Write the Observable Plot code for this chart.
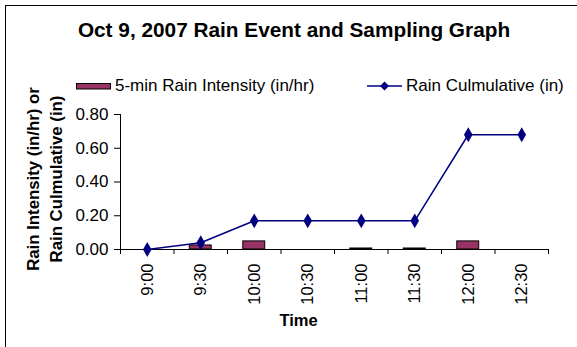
<!DOCTYPE html>
<html>
<head>
<meta charset="utf-8">
<script src="https://cdn.jsdelivr.net/npm/d3@7"></script>
<script src="https://cdn.jsdelivr.net/npm/@observablehq/plot@0.6"></script>
<style>
  html, body { margin: 0; padding: 0; background: #fff; }
  #wrap { position: relative; width: 577px; height: 347px; overflow: hidden; font-family: Arial, "Liberation Sans", sans-serif; color: #000; }
  #frame { position: absolute; left: 5px; top: 5px; width: 620px; height: 400px; border: 1px solid #000; box-sizing: border-box; }
  #chart { position: absolute; left: 0; top: 0; }
  .title { position: absolute; left: 0; width: 588px; top: 18px; text-align: center; font-weight: bold; font-size: 20.8px; }
  .leg { position: absolute; font-size: 17px; top: 76px; white-space: nowrap; }
  .ytitle { position: absolute; left: 45px; top: 179px; transform: translate(-50%, -50%) rotate(-90deg); font-weight: bold; font-size: 16.8px; text-align: center; line-height: 23px; white-space: nowrap; }
  .xtitle { position: absolute; left: 0; width: 597px; top: 311px; text-align: center; font-weight: bold; font-size: 16.5px; }
</style>
</head>
<body>
<div id="wrap">
  <div id="frame"></div>
  <div id="chart"></div>
  <div class="title">Oct 9, 2007 Rain Event and Sampling Graph</div>
  <svg style="position:absolute;left:0;top:0" width="577" height="347">
    <rect x="76.5" y="83.5" width="34" height="5.5" fill="#993366" stroke="#000" stroke-width="1"/>
    <line x1="367" x2="402" y1="86" y2="86" stroke="#000080" stroke-width="1.5"/>
    <path d="M384.5,81.5 L389,86 L384.5,90.5 L380,86 Z" fill="#000080"/>
  </svg>
  <div class="leg" style="left:115px">5-min Rain Intensity (in/hr)</div>
  <div class="leg" style="left:406px">Rain Culmulative (in)</div>
  <div class="ytitle">Rain Intensity (in/hr) or<br>Rain Culmulative (in)</div>
  <div class="xtitle">Time</div>
</div>
<script>
const times = ["9:00", "9:30", "10:00", "10:30", "11:00", "11:30", "12:00", "12:30"];
const intensity = [0, 0.024, 0.048, 0, 0.006, 0.006, 0.048, 0];
const cumulative = [0, 0.04, 0.17, 0.17, 0.17, 0.17, 0.68, 0.68];
const yTicks = [0, 0.2, 0.4, 0.6, 0.8];

const rows = times.map((t, i) => ({i, t, intensity: intensity[i], cumulative: cumulative[i]}));
const edges = d3.range(-0.5, times.length, 1);
const barHalf = 0.205;

const chart = Plot.plot({
  width: 577,
  height: 347,
  marginLeft: 120,
  marginRight: 29,
  marginTop: 114,
  marginBottom: 98,
  style: {fontFamily: "Arial, 'Liberation Sans', sans-serif", background: "transparent", color: "#000"},
  x: {domain: [-0.5, times.length - 0.5]},
  y: {domain: [0, 0.8]},
  marks: [
    Plot.rectY(rows.filter(d => d.intensity > 0), {x1: d => d.i - barHalf, x2: d => d.i + barHalf, y1: 0, y2: "intensity", fill: "#993366", stroke: "#000", strokeWidth: 1}),
    Plot.ruleY([0], {stroke: "#000", strokeWidth: 1}),
    Plot.ruleX([-0.5], {stroke: "#000", strokeWidth: 1}),
    Plot.ruleX(edges, {x: d => d, stroke: "#000", strokeWidth: 1, insetTop: 135, insetBottom: -5}),
    Plot.axisY({ticks: yTicks, tickFormat: d3.format(".2f"), tickSize: 6, tickPadding: 6, fontSize: 17, label: null, stroke: "#000"}),
    Plot.axisX({ticks: d3.range(times.length), tickFormat: i => times[i], tickSize: 0, tickPadding: 14, tickRotate: -90, fontSize: 16.5, label: null}),
    Plot.line(rows, {x: "i", y: "cumulative", stroke: "#000080", strokeWidth: 1.5}),
    Plot.dot(rows, {x: "i", y: "cumulative", symbol: "diamond", r: 4.5, fill: "#000080", stroke: "none"})
  ]
});
document.getElementById("chart").appendChild(chart);
</script>
</body>
</html>
